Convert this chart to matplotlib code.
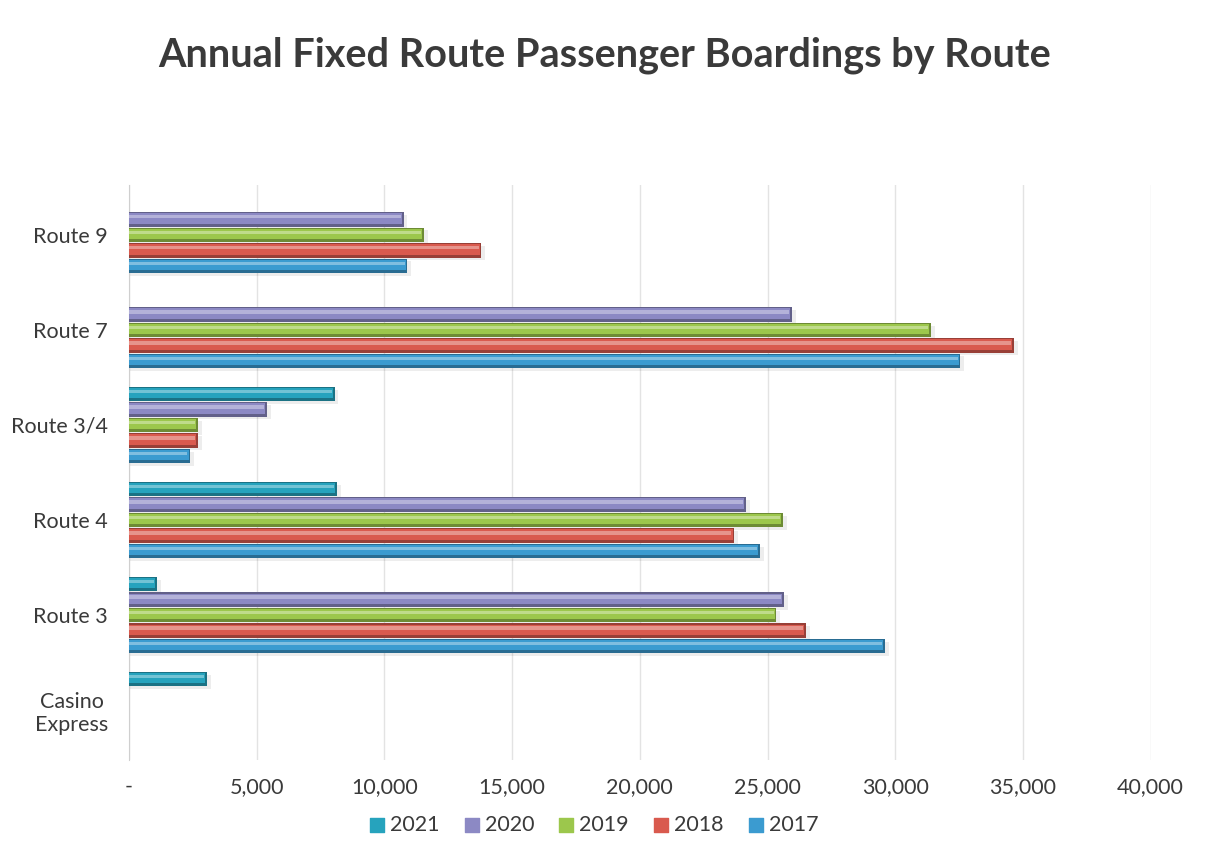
import numpy as np
import matplotlib.pyplot as plt
from matplotlib.colors import to_rgb
from matplotlib.ticker import FuncFormatter

# routes from bottom to top
routes = ['Casino\nExpress', 'Route 3', 'Route 4', 'Route 3/4', 'Route 7', 'Route 9']
years = ['2017', '2018', '2019', '2020', '2021']

b2017 = [0, 29600, 24700, 2400, 32550, 10900]
b2018 = [0, 26500, 23700, 2700, 34650, 13800]
b2019 = [0, 25350, 25600, 2700, 31400, 11550]
b2020 = [0, 25650, 24150, 5400, 25950, 10750]
b2021 = [3050, 1100, 8150, 8050, 0, 0]

colors = ['#3b9bd0', '#d95a4e', '#9cc74c', '#8c89c4', '#26a3bd']

plt.rcParams['font.family'] = ['Lato', 'DejaVu Sans']

fig = plt.figure(figsize=(12.09, 8.61), dpi=100)
ax = fig.add_axes([0.1067, 0.1173, 0.845, 0.668])

series = [b2017, b2018, b2019, b2020, b2021]
y = np.arange(len(routes))
pitch = 0.163
h = 0.152


def shade(c, f):
    r, g, b = to_rgb(c)
    if f > 0:
        return (r + (1 - r) * f, g + (1 - g) * f, b + (1 - b) * f)
    return (r * (1 + f), g * (1 + f), b * (1 + f))


for i, (vals, c) in enumerate(zip(series, colors)):
    pos = y + (i - 2) * pitch
    vals = np.array(vals)
    m = vals > 0
    # soft shadow
    ax.barh(pos[m] - 0.03, vals[m] + 150, height=h, color='#000000', alpha=0.07,
            zorder=2, linewidth=0)
    ax.barh(pos[m], vals[m], height=h, color=shade(c, -0.3), zorder=3,
            linewidth=0)
    ax.barh(pos[m] + 0.008, vals[m] - 70, height=h * 0.72, color=c, zorder=4,
            linewidth=0)
    ax.barh(pos[m] + h * 0.17, vals[m] - 110, height=h * 0.22,
            color=shade(c, 0.35), zorder=5, linewidth=0)
    # legend proxy
    ax.scatter([], [], marker='s', s=100, color=c, label=years[i])

ax.set_xlim(0, 40000)
ax.set_ylim(-0.526, 5.526)
ax.set_xticks(np.arange(0, 40001, 5000))
ax.xaxis.set_major_formatter(FuncFormatter(lambda v, p: '-' if v == 0 else f'{int(v):,}'))
ax.set_yticks(y)
ax.set_yticklabels(routes, multialignment='center')
ax.tick_params(axis='both', length=0, labelsize=15.5, colors='#3a3a3a')
ax.tick_params(axis='x', pad=12)
ax.tick_params(axis='y', pad=15)
ax.grid(axis='x', color='#e3e3e3', linewidth=1, zorder=0)
ax.set_axisbelow(True)
for s in ['top', 'right', 'bottom']:
    ax.spines[s].set_visible(False)
ax.spines['left'].set_color('#cfcfcf')

fig.suptitle('Annual Fixed Route Passenger Boardings by Route', x=0.5, y=0.958,
             fontsize=28.5, fontweight='bold', color='#3a3a3a')

handles, labels = ax.get_legend_handles_labels()
fig.legend(handles[::-1], labels[::-1], loc='center', bbox_to_anchor=(0.49, 0.042),
           ncol=5, frameon=False, fontsize=15.5, handletextpad=0.1,
           columnspacing=1.0, handlelength=1.0, labelcolor='#3a3a3a')

fig.savefig('out.png', dpi=100, facecolor='white')
